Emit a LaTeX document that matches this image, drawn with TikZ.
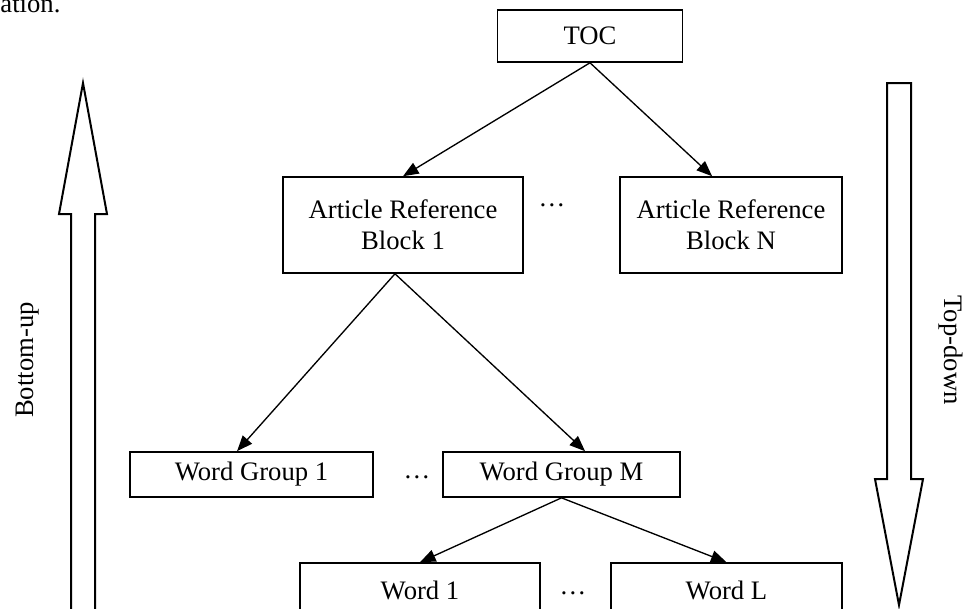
\documentclass[tikz,border=0pt]{standalone}
\usepackage{fontspec}
\setmainfont{Liberation Serif}
\usetikzlibrary{arrows.meta}
\begin{document}
\begin{tikzpicture}[x=0.45pt,y=-0.45pt]
  \tikzstyle{block} = [rectangle, draw, line width=0.7pt, inner sep=0pt, align=center, font=\fontsize{12}{14}\selectfont]
  \tikzstyle{arrow} = [line width=0.6pt, -{Triangle[length=7pt,width=5.5pt]}]
  \tikzstyle{dots} = [font=\fontsize{12}{14}\selectfont]
  \tikzstyle{bigarrow} = [line width=0.9pt, fill=white]
  \clip (0,0) rectangle (964,608);
  \useasboundingbox (0,0) rectangle (964,608);

  % Leftover text from the page
  \node [dots, anchor=base west, inner sep=0pt] (pagetext) at (0,12) {ation.};

  % Top level
  \node [block, minimum width=83.3pt, minimum height=23.4pt] (toc) at (590,36) {TOC};

  % Article reference blocks
  \node [block, minimum width=108pt, minimum height=43.2pt] (arb1) at (403,225) {Article Reference\\Block 1};
  \node [block, minimum width=99.9pt, minimum height=43.2pt] (arbn) at (731,225) {Article Reference\\Block N};
  \node [dots] (arbdots) at (552,205) {\ldots};

  % Word groups
  \node [block, minimum width=109.4pt, minimum height=20.3pt] (wg1) at (251.5,474.5) {Word Group 1};
  \node [block, minimum width=106.7pt, minimum height=20.3pt] (wgm) at (561.5,474.5) {Word Group M};
  \node [dots] (wgdots) at (417,477) {\ldots};

  % Words
  \node [block, minimum width=108pt, minimum height=24.3pt] (w1) at (420,590) {Word 1};
  \node [block, minimum width=104pt, minimum height=24.3pt] (wl) at (726.5,590) {Word L};
  \node [dots] (wdots) at (573,593) {\ldots};

  % Tree arrows
  \draw [arrow] (toc.south) -- (arb1.north);
  \draw [arrow] (toc.south) -- ([xshift=-8.5pt]arbn.north);
  \draw [arrow] ([xshift=-3.6pt]arb1.south) -- ([xshift=-6.5pt]wg1.north);
  \draw [arrow] ([xshift=-3.6pt]arb1.south) -- ([xshift=10.6pt]wgm.north);
  \draw [arrow] (wgm.south) -- (w1.north);
  \draw [arrow] (wgm.south) -- (wl.north);

  % Direction arrows
  \draw [bigarrow] (71,620) -- (71,214) -- (59,214) -- (83,83) -- (107,214) -- (95,214) -- (95,620);
  \draw [bigarrow] (887,83) -- (887,479) -- (875,479) -- (899,605) -- (923,479) -- (911,479) -- (911,83) -- cycle;
  \node [dots, rotate=90] (bottomup) at (28,360) {Bottom-up};
  \node [dots, rotate=-90] (topdown) at (951,350) {Top-down};
\end{tikzpicture}
\end{document}
